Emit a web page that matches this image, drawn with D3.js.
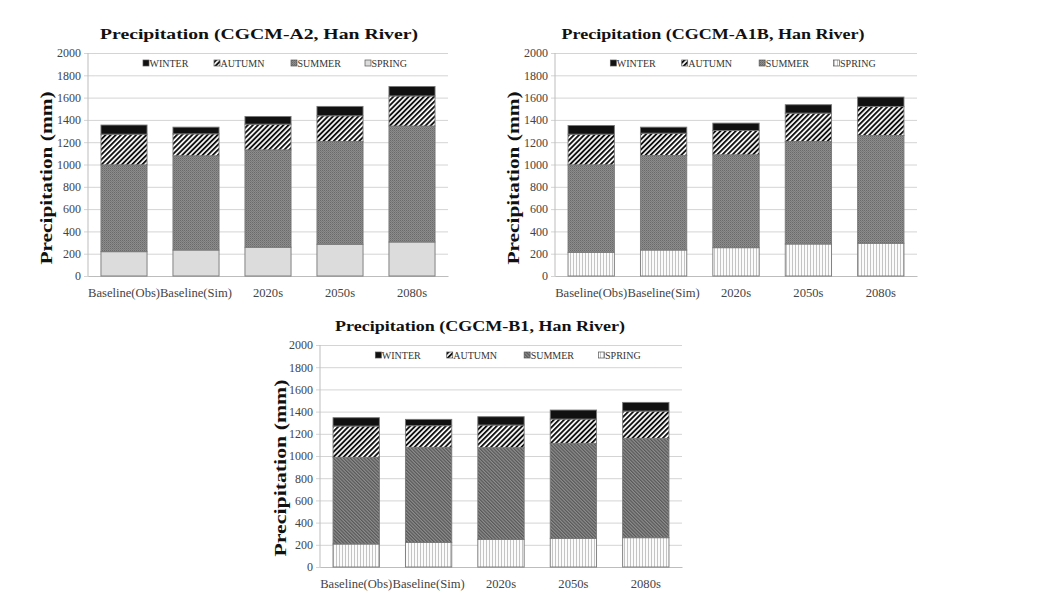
<!DOCTYPE html>
<html>
<head>
<meta charset="utf-8">
<script src="https://cdn.jsdelivr.net/npm/d3@7"></script>
<style>
  html, body { margin: 0; padding: 0; background: #fff; }
  svg { display: block; }
</style>
</head>
<body>
<svg id="chart" width="1061" height="601"></svg>
<script>
// ---------------- DATA ----------------
const categories = ["Baseline(Obs)", "Baseline(Sim)", "2020s", "2050s", "2080s"];
const seasons = ["SPRING", "SUMMER", "AUTUMN", "WINTER"];          // stacking order (bottom -> top)
const legendOrder = ["WINTER", "AUTUMN", "SUMMER", "SPRING"];
const yTicks = [0, 200, 400, 600, 800, 1000, 1200, 1400, 1600, 1800, 2000];

// CGCM-A2 (mm per season)
const a2Spring = [218, 233, 258, 285, 305];
const a2Summer = [779, 845, 873, 921, 1040];
const a2Autumn = [275, 197, 231, 231, 270];
const a2Winter = [82, 60, 69, 84, 85];

// CGCM-A1B
const a1bSpring = [213, 233, 254, 287, 294];
const a1bSummer = [784, 847, 833, 919, 966];
const a1bAutumn = [275, 201, 218, 255, 261];
const a1bWinter = [78, 54, 66, 75, 84];

// CGCM-B1
const b1Spring = [207, 222, 249, 258, 264];
const b1Summer = [781, 856, 826, 856, 895];
const b1Autumn = [282, 195, 204, 219, 246];
const b1Winter = [75, 57, 75, 81, 78];

const titles = [
  "Precipitation (CGCM-A2, Han River)",
  "Precipitation (CGCM-A1B, Han River)",
  "Precipitation (CGCM-B1, Han River)"
];
const yLabel = "Precipitation (mm)";

// ---------------- DRAWING ----------------
const svg = d3.select("#chart");
const defs = svg.append("defs");
const serif = "'Liberation Serif', 'Times New Roman', serif";

function pattern(id, w, h, rot, build) {
  const p = defs.append("pattern").attr("id", id)
    .attr("patternUnits", "userSpaceOnUse").attr("width", w).attr("height", h);
  if (rot) p.attr("patternTransform", `rotate(${rot})`);
  build(p);
}
// autumn: black "/" stripes
pattern("autumn", 3.6, 3.6, 45, p => {
  p.append("rect").attr("width", 3.6).attr("height", 3.6).attr("fill", "#fff");
  p.append("rect").attr("width", 1.9).attr("height", 3.6).attr("fill", "#111");
});
// summer speckle (charts 1, 2)
pattern("summerDots", 2, 2, 0, p => {
  p.append("rect").attr("width", 2).attr("height", 2).attr("fill", "#8c8c8c");
  p.append("rect").attr("width", 1).attr("height", 1).attr("fill", "#6a6a6a");
  p.append("rect").attr("x", 1).attr("y", 1).attr("width", 1).attr("height", 1).attr("fill", "#7a7a7a");
});
// summer fine diagonal hatch (chart 3)
pattern("summerHatch", 2.4, 2.4, -45, p => {
  p.append("rect").attr("width", 2.4).attr("height", 2.4).attr("fill", "#8e8e8e");
  p.append("rect").attr("width", 1.2).attr("height", 2.4).attr("fill", "#575757");
});
// spring vertical lines (charts 2, 3)
pattern("springVert", 3, 3, 0, p => {
  p.append("rect").attr("width", 3).attr("height", 3).attr("fill", "#fbfbfb");
  p.append("rect").attr("width", 1).attr("height", 3).attr("fill", "#c4c4c4");
});

const charts = [
  { title: titles[0], spring: a2Spring, summer: a2Summer, autumn: a2Autumn, winter: a2Winter,
    x0: 88, x1: 448, y0: 53, y1: 276, tx: 259, ty: 39, tw: 318, lx: 52, ly: 178, lw: 173,
    springFill: "#dcdcdc", summerFill: "url(#summerDots)" },
  { title: titles[1], spring: a1bSpring, summer: a1bSummer, autumn: a1bAutumn, winter: a1bWinter,
    x0: 555, x1: 917, y0: 53, y1: 276, tx: 713, ty: 39, tw: 303, lx: 519, ly: 178, lw: 173,
    springFill: "url(#springVert)", summerFill: "url(#summerDots)" },
  { title: titles[2], spring: b1Spring, summer: b1Summer, autumn: b1Autumn, winter: b1Winter,
    x0: 320, x1: 682, y0: 345, y1: 567, tx: 480, ty: 331, tw: 290, lx: 286, ly: 468, lw: 177,
    springFill: "url(#springVert)", summerFill: "url(#summerHatch)" }
];

charts.forEach(c => {
  const g = svg.append("g");
  const fills = { SPRING: c.springFill, SUMMER: c.summerFill, AUTUMN: "url(#autumn)", WINTER: "#111" };

  const x = d3.scaleBand().domain(categories).range([c.x0, c.x1]).paddingInner(0.36).paddingOuter(0.18);
  const y = d3.scaleLinear().domain([0, 2000]).range([c.y1, c.y0]);

  // gridlines + y axis
  const yAxis = d3.axisLeft(y).tickValues(yTicks).tickFormat(d3.format("d"))
    .tickSize(c.x0 - c.x1).tickPadding(7);
  const ya = g.append("g").attr("transform", `translate(${c.x0},0)`).call(yAxis);
  ya.select(".domain").remove();
  ya.selectAll(".tick line").attr("stroke", "#d4d4d4").attr("stroke-width", 1).attr("x1", -4);
  ya.selectAll(".tick text").attr("font-family", serif).attr("font-size", 12).attr("fill", "#444");
  g.append("line").attr("x1", c.x0).attr("x2", c.x0).attr("y1", c.y0).attr("y2", c.y1)
    .attr("stroke", "#bdbdbd");

  // x axis
  const xAxis = d3.axisBottom(x).tickSize(0).tickPadding(12);
  const xa = g.append("g").attr("transform", `translate(0,${c.y1})`).call(xAxis);
  xa.select(".domain").attr("stroke", "#bdbdbd");
  xa.selectAll(".tick text").attr("font-family", serif).attr("font-size", 12.6).attr("fill", "#444");

  // stacked bars
  const rows = categories.map((cat, i) => ({
    cat, SPRING: c.spring[i], SUMMER: c.summer[i], AUTUMN: c.autumn[i], WINTER: c.winter[i]
  }));
  const stack = d3.stack().keys(seasons)(rows);
  g.selectAll("g.layer").data(stack).join("g").attr("class", "layer")
    .attr("fill", d => fills[d.key])
    .selectAll("rect").data(d => d).join("rect")
    .attr("x", d => x(d.data.cat))
    .attr("width", x.bandwidth())
    .attr("y", d => y(d[1]))
    .attr("height", d => y(d[0]) - y(d[1]))
    .attr("stroke", "#777").attr("stroke-width", 0.9);

  // legend
  const legOffsets = [58, 129, 206, 280];
  const lg = g.append("g");
  legendOrder.forEach((k, i) => {
    const lx = c.x0 + legOffsets[i] * (c.x1 - c.x0) / 360;
    const ly = c.y0 + 10;
    lg.append("rect").attr("x", lx - 3).attr("y", ly - 3).attr("width", 6).attr("height", 6)
      .attr("fill", fills[k]).attr("stroke", "#555").attr("stroke-width", 0.7);
    lg.append("text").attr("x", lx + 3.5).attr("y", ly + 3.6)
      .attr("font-family", serif).attr("font-size", 10).attr("fill", "#333").text(k);
  });

  // title
  g.append("text").attr("x", c.tx).attr("y", c.ty).attr("text-anchor", "middle")
    .attr("font-family", serif).attr("font-weight", "bold").attr("font-size", 15.5)
    .attr("textLength", c.tw).attr("lengthAdjust", "spacingAndGlyphs")
    .attr("fill", "#111").text(c.title);

  // y label
  g.append("text").attr("transform", `translate(${c.lx},${c.ly}) rotate(-90)`)
    .attr("text-anchor", "middle")
    .attr("font-family", serif).attr("font-weight", "bold").attr("font-size", 16.5)
    .attr("textLength", c.lw).attr("lengthAdjust", "spacingAndGlyphs")
    .attr("fill", "#111").text(yLabel);
});
</script>
</body>
</html>
